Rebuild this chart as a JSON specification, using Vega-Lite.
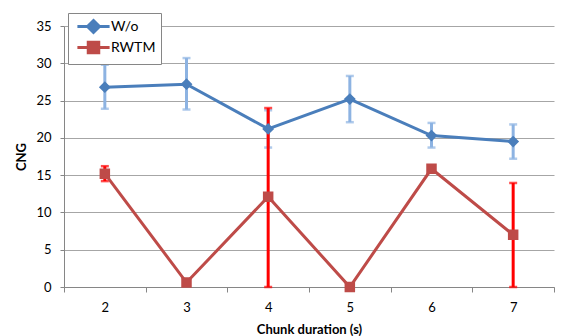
{
  "$schema": "https://vega.github.io/schema/vega-lite/v6.json",
  "autosize": "none",
  "width": 490,
  "height": 261,
  "padding": {"left": 64, "top": 26, "right": 8, "bottom": 49},
  "background": "white",
  "config": {
    "view": {"stroke": null},
    "font": "Lato",
    "axis": {"labelFont": "Lato", "titleFont": "Lato", "labelColor": "#000000", "titleColor": "#000000"}
  },
  "data": {
    "values": [
      {"x": 2, "series": "W/o", "v": 26.8, "lo": 23.9, "hi": 29.8},
      {"x": 3, "series": "W/o", "v": 27.2, "lo": 23.8, "hi": 30.7},
      {"x": 4, "series": "W/o", "v": 21.2, "lo": 18.7, "hi": 23.7},
      {"x": 5, "series": "W/o", "v": 25.2, "lo": 22.1, "hi": 28.3},
      {"x": 6, "series": "W/o", "v": 20.3, "lo": 18.7, "hi": 22.0},
      {"x": 7, "series": "W/o", "v": 19.5, "lo": 17.2, "hi": 21.8},
      {"x": 2, "series": "RWTM", "v": 15.2, "lo": 14.2, "hi": 16.2},
      {"x": 3, "series": "RWTM", "v": 0.6, "lo": null, "hi": null},
      {"x": 4, "series": "RWTM", "v": 12.1, "lo": 0, "hi": 24.0},
      {"x": 5, "series": "RWTM", "v": 0.0, "lo": null, "hi": null},
      {"x": 6, "series": "RWTM", "v": 15.85, "lo": null, "hi": null},
      {"x": 7, "series": "RWTM", "v": 7.0, "lo": 0, "hi": 13.95}
    ]
  },
  "encoding": {
    "x": {
      "field": "x", "type": "ordinal",
      "scale": {"type": "band", "paddingInner": 0, "paddingOuter": 0},
      "axis": {
        "title": "Chunk duration (s)", "titleFontSize": 13, "titleFontWeight": "bold", "titlePadding": 9,
        "labelAngle": 0, "labelFontSize": 13, "labelPadding": 9,
        "tickBand": "extent", "tickSize": 5, "tickColor": "#868686",
        "domainColor": "#868686", "grid": false
      }
    }
  },
  "layer": [
    {
      "transform": [{"filter": "datum.series === 'W/o' && isValid(datum.lo)"}],
      "mark": {"type": "rule", "color": "#8DB3E2", "strokeWidth": 3},
      "encoding": {
        "y": {
          "field": "lo", "type": "quantitative",
          "scale": {"domain": [0, 35], "nice": false, "zero": false},
          "axis": {
            "title": "CNG", "titleFontSize": 13, "titleFontWeight": "bold", "titlePadding": 7,
            "values": [0, 5, 10, 15, 20, 25, 30, 35], "tickCount": 20, "labelOverlap": false,
            "labelFontSize": 13, "labelPadding": 9, "tickSize": 4, "tickColor": "#868686",
            "domainColor": "#868686", "grid": true, "gridColor": "#A6A6A6", "gridWidth": 1
          }
        },
        "y2": {"field": "hi"}
      }
    },
    {
      "transform": [{"filter": "datum.series === 'W/o' && isValid(datum.lo)"}],
      "mark": {"type": "tick", "color": "#8DB3E2", "size": 8, "thickness": 2.5, "orient": "horizontal"},
      "encoding": {"y": {"field": "lo", "type": "quantitative"}}
    },
    {
      "transform": [{"filter": "datum.series === 'W/o' && isValid(datum.lo)"}],
      "mark": {"type": "tick", "color": "#8DB3E2", "size": 8, "thickness": 2.5, "orient": "horizontal"},
      "encoding": {"y": {"field": "hi", "type": "quantitative"}}
    },
    {
      "transform": [{"filter": "datum.series === 'RWTM' && isValid(datum.lo)"}],
      "mark": {"type": "rule", "color": "#FF0000", "strokeWidth": 3},
      "encoding": {
        "y": {"field": "lo", "type": "quantitative"},
        "y2": {"field": "hi"}
      }
    },
    {
      "transform": [{"filter": "datum.series === 'RWTM' && isValid(datum.lo)"}],
      "mark": {"type": "tick", "color": "#FF0000", "size": 8, "thickness": 2.5, "orient": "horizontal"},
      "encoding": {"y": {"field": "lo", "type": "quantitative"}}
    },
    {
      "transform": [{"filter": "datum.series === 'RWTM' && isValid(datum.lo)"}],
      "mark": {"type": "tick", "color": "#FF0000", "size": 8, "thickness": 2.5, "orient": "horizontal"},
      "encoding": {"y": {"field": "hi", "type": "quantitative"}}
    },
    {
      "mark": {"type": "line", "strokeWidth": 3},
      "encoding": {
        "y": {"field": "v", "type": "quantitative"},
        "color": {
          "field": "series", "type": "nominal",
          "scale": {"domain": ["W/o", "RWTM"], "range": ["#4A7EBB", "#BE4B48"]}
        }
      }
    },
    {
      "mark": {"type": "point", "filled": true, "opacity": 1, "strokeWidth": 0, "size": 196},
      "encoding": {
        "y": {"field": "v", "type": "quantitative"},
        "color": {
          "field": "series", "type": "nominal",
          "scale": {"domain": ["W/o", "RWTM"], "range": ["#4A7EBB", "#BE4B48"]},
          "legend": {
            "title": null, "orient": "none", "legendX": 4, "legendY": -13,
            "padding": 5, "rowPadding": -3, "symbolOffset": 12, "labelOffset": 9,
            "labelFont": "Lato", "labelFontSize": 14, "labelColor": "#000000",
            "symbolSize": 196, "symbolStrokeWidth": 3,
            "strokeColor": "#868686", "fillColor": "#FFFFFF",
            "encode": {
              "symbols": {
                "update": {
                  "stroke": {"scale": "color", "field": "value"},
                  "strokeWidth": {"value": 3},
                  "size": {"value": 196},
                  "opacity": {"value": 1}
                }
              }
            }
          }
        },
        "shape": {
          "field": "series", "type": "nominal",
          "scale": {"domain": ["W/o", "RWTM"], "range": ["M-2.3,0H2.3M0,-0.85L0.85,0L0,0.85L-0.85,0Z", "M-2.3,0H2.3M-0.75,-0.75H0.75V0.75H-0.75Z"]}
        }
      }
    }
  ]
}
